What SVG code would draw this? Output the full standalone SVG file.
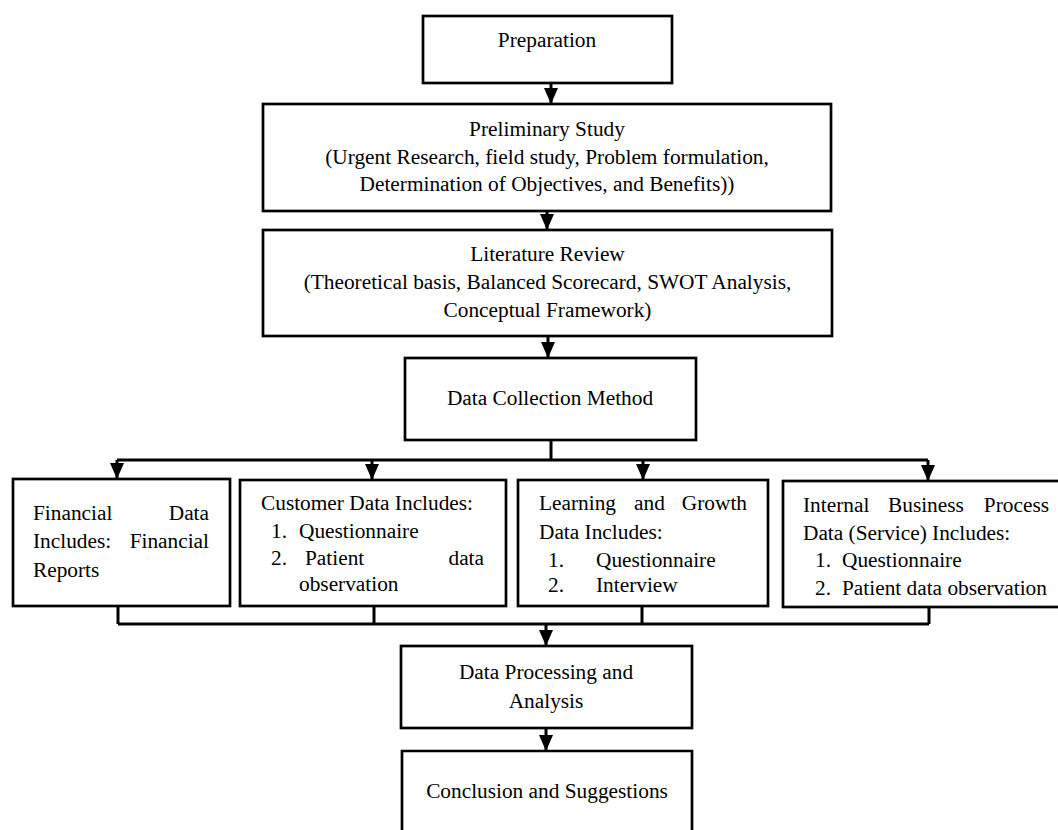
<svg xmlns="http://www.w3.org/2000/svg" width="1058" height="830" viewBox="0 0 1058 830">
<style>
.box{fill:#fff;stroke:#000;stroke-width:2.7}
.c{fill:none;stroke:#000;stroke-width:3}
text{font-family:"Liberation Serif","Times New Roman",serif;font-size:21.33px;fill:#000}
.m{text-anchor:middle}
.e{text-anchor:end}
</style>
<defs>
<marker id="ah" markerUnits="userSpaceOnUse" markerWidth="16" markerHeight="14" refX="16" refY="7" orient="auto" viewBox="0 0 16 14">
<path d="M0,0 L16,7 L0,14 z" fill="#000"/>
</marker>
</defs>
<rect width="1058" height="830" fill="#fff"/>
<g id="connectors">
<path class="c" d="M551,83 V104" marker-end="url(#ah)"/>
<path class="c" d="M547,211 V230" marker-end="url(#ah)"/>
<path class="c" d="M548,336 V358" marker-end="url(#ah)"/>
<path class="c" d="M551,440 V460 M117,460 H928"/>
<path class="c" d="M117,460 V479" marker-end="url(#ah)"/>
<path class="c" d="M372,460 V480" marker-end="url(#ah)"/>
<path class="c" d="M643,460 V480" marker-end="url(#ah)"/>
<path class="c" d="M928,460 V481" marker-end="url(#ah)"/>
<path class="c" d="M118,606 V624 M374,606 V624 M642,606 V624 M929,607 V624 M118,624 H929"/>
<path class="c" d="M546,624 V646" marker-end="url(#ah)"/>
<path class="c" d="M546,728 V751" marker-end="url(#ah)"/>
</g>
<g id="preparation">
<rect class="box" x="423" y="16" width="249" height="67"/>
<text class="m" x="547" y="47">Preparation</text>
</g>
<g id="preliminary">
<rect class="box" x="263" y="104" width="568" height="107"/>
<text class="m" x="547" y="136">Preliminary Study</text>
<text class="m" x="547" y="164">(Urgent Research, field study, Problem formulation,</text>
<text class="m" x="547" y="191">Determination of Objectives, and Benefits))</text>
</g>
<g id="literature">
<rect class="box" x="263" y="230" width="569" height="106"/>
<text class="m" x="547.5" y="261">Literature Review</text>
<text class="m" x="547.5" y="289">(Theoretical basis, Balanced Scorecard, SWOT Analysis,</text>
<text class="m" x="547.5" y="317">Conceptual Framework)</text>
</g>
<g id="datacollection">
<rect class="box" x="405" y="358" width="291" height="82"/>
<text class="m" x="550" y="405">Data Collection Method</text>
</g>
<g id="financial">
<rect class="box" x="13" y="479" width="217" height="127"/>
<text x="33" y="520">Financial</text>
<text class="e" x="209" y="520">Data</text>
<text x="33" y="548">Includes:</text>
<text class="e" x="209" y="548">Financial</text>
<text x="33" y="577">Reports</text>
</g>
<g id="customer">
<rect class="box" x="240" y="480" width="266" height="126"/>
<text x="261" y="510">Customer Data Includes:</text>
<text x="271" y="538">1.</text>
<text x="299" y="538">Questionnaire</text>
<text x="271" y="565">2.</text>
<text x="305" y="565">Patient</text>
<text class="e" x="484" y="565">data</text>
<text x="299" y="591">observation</text>
</g>
<g id="learning">
<rect class="box" x="518" y="480" width="250" height="126"/>
<text x="539" y="510">Learning</text>
<text x="634" y="510">and</text>
<text class="e" x="747" y="510">Growth</text>
<text x="539" y="539">Data Includes:</text>
<text x="548" y="567">1.</text>
<text x="596" y="567">Questionnaire</text>
<text x="548" y="592">2.</text>
<text x="596" y="592">Interview</text>
</g>
<g id="internal">
<rect class="box" x="783" y="481" width="280" height="126"/>
<text x="803" y="512">Internal</text>
<text x="888" y="512">Business</text>
<text class="e" x="1049" y="512">Process</text>
<text x="803" y="540">Data (Service) Includes:</text>
<text x="815" y="567">1.</text>
<text x="842" y="567">Questionnaire</text>
<text x="815" y="595">2.</text>
<text x="842" y="595">Patient data observation</text>
</g>
<g id="processing">
<rect class="box" x="401" y="646" width="291" height="82"/>
<text class="m" x="546" y="679">Data Processing and</text>
<text class="m" x="546" y="708">Analysis</text>
</g>
<g id="conclusion">
<path class="box" d="M402,832 V751 H692 V832"/>
<text class="m" x="547" y="798">Conclusion and Suggestions</text>
</g>
</svg>
